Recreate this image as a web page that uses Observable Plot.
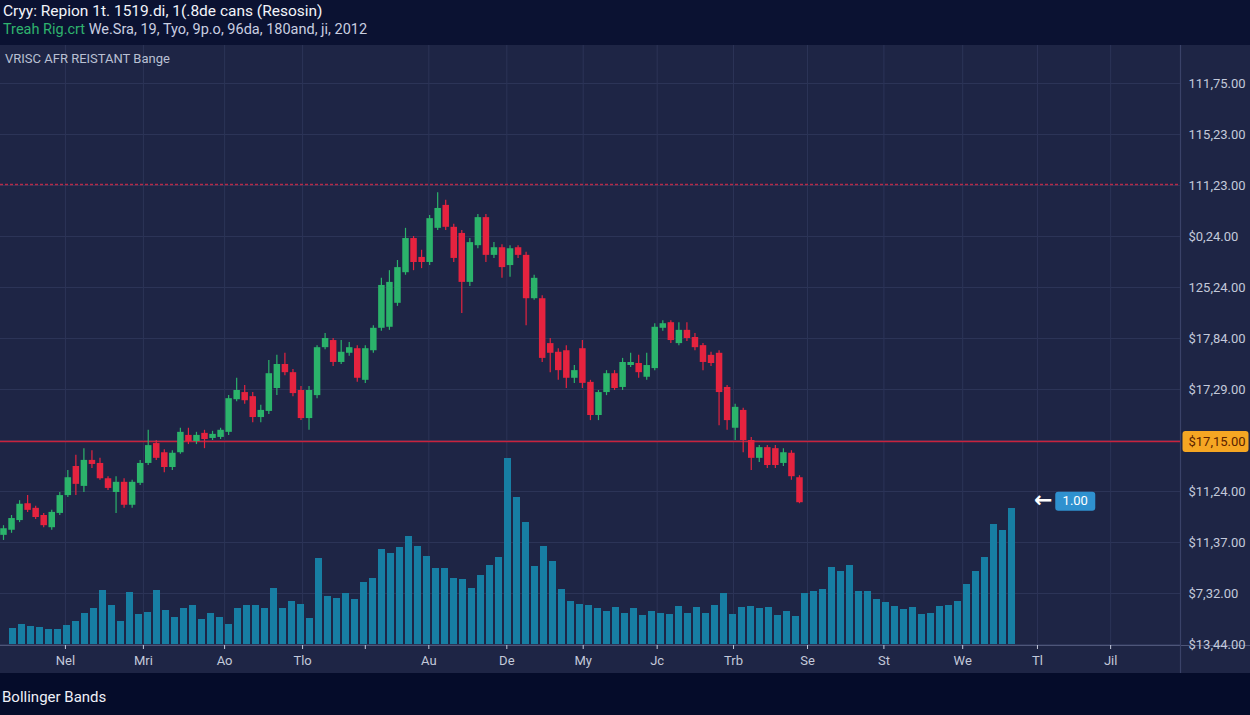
<!DOCTYPE html>
<html><head><meta charset="utf-8">
<script src="https://cdn.jsdelivr.net/npm/d3@7"></script>
<script src="https://cdn.jsdelivr.net/npm/@observablehq/plot@0.6"></script>
<style>
html,body{margin:0;padding:0;background:#050c2a;font-family:Roboto,"Noto Sans",sans-serif;overflow:hidden;}
#header{height:45px;background:#0b1232;position:relative;}
#t1{position:absolute;left:3px;top:2px;font-size:15.5px;color:#f2f4fa;white-space:nowrap;}
#t2{position:absolute;left:3px;top:21px;font-size:14.5px;color:#c9cee0;white-space:nowrap;}
#t2 .g{color:#2fb36e;}
#chart{position:relative;width:1250px;height:628px;background:#1e2545;}
#chart svg{position:absolute;left:0;top:0;}
#inner{position:absolute;left:5px;top:6px;font-size:13px;color:#b9c0d3;}
#footer{height:42px;position:relative;background:#050c2a;}
#foot{position:absolute;left:2px;top:15px;font-size:15px;color:#eef0f8;}
</style>
</head><body>
<div id="header">
  <div id="t1">Cryy: Repion 1t. 1519.di, 1(.8de cans (Resosin)</div>
  <div id="t2"><span class="g">Treah Rig.crt</span> We.Sra, 19, Tyo, 9p.o, 96da, 180and, ji, 2012</div>
</div>
<div id="chart"></div>
<div id="footer"><div id="foot">Bollinger Bands</div></div>
<script>
// ---- data ----
const candleOpen = [
 21.4,22.4,24.3,27.6,26.7,25.3,22.9,25.7,29.2,34.9,
 31.0,36.1,35.5,32.5,29.8,31.8,27.3,31.6,35.5,39.4,
 37.6,34.7,37.6,41.0,39.8,41.4,40.4,40.6,41.6,48.0,
 49.4,48.6,44.5,45.7,50.2,54.9,53.3,49.8,44.3,48.8,
 58.2,59.6,55.3,57.1,58.0,51.8,57.6,62.0,62.2,66.9,
 72.9,79.6,75.9,74.9,81.6,86.1,81.8,80.6,71.0,78.2,
 83.7,76.3,77.8,74.3,77.8,76.3,67.8,67.8,59.0,57.3,
 57.6,52.2,58.0,51.4,44.9,49.4,53.1,50.4,54.7,55.1,
 52.4,54.1,62.0,63.1,59.0,61.6,60.2,58.6,56.7,57.1,
 50.4,42.4,45.9,40.0,36.5,38.6,38.4,35.5,37.5,32.7];
const candleClose = [
 22.7,24.7,27.5,26.3,24.9,23.3,25.9,29.2,32.7,31.4,
 36.1,35.3,32.5,30.6,31.8,27.3,31.8,35.5,39.0,36.5,
 34.7,37.5,41.6,39.8,41.0,40.2,41.2,42.0,48.2,49.8,
 47.8,44.5,45.9,53.1,54.9,53.3,49.2,44.3,49.8,58.2,
 60.0,55.3,57.3,58.2,52.2,58.0,62.0,70.4,71.0,73.9,
 79.6,74.9,74.9,83.5,85.5,81.8,75.7,71.0,78.8,83.7,
 76.3,77.8,73.9,77.6,76.3,67.8,71.8,56.1,57.1,53.7,
 52.2,53.7,51.2,44.9,49.4,53.1,50.2,55.3,55.3,53.3,
 54.7,62.2,62.9,59.6,61.6,60.0,58.2,55.3,55.1,49.4,
 43.9,46.5,40.0,36.5,38.6,35.1,35.1,37.6,32.9,27.8];
const candleHigh = [
 23.3,25.3,28.2,29.2,27.1,25.7,26.3,29.8,34.1,37.1,
 38.4,38.0,36.5,32.9,32.9,32.5,32.2,36.1,42.0,40.0,
 38.2,38.0,42.4,42.4,41.6,42.0,41.8,42.4,48.8,52.2,
 50.8,49.4,46.9,55.7,56.7,57.1,53.9,50.6,50.6,58.6,
 61.0,60.0,59.6,59.2,58.6,58.6,62.5,71.8,73.3,75.3,
 81.6,80.0,77.3,84.1,88.6,87.1,82.4,81.2,79.6,84.3,
 84.3,78.8,78.4,78.2,78.2,76.9,72.4,68.4,60.0,58.0,
 58.6,54.7,59.6,51.8,49.8,53.7,53.7,56.1,57.1,56.7,
 57.1,62.9,63.5,63.5,63.1,63.1,61.0,59.0,57.3,57.6,
 50.8,47.1,46.3,40.6,39.0,39.0,39.0,38.4,38.0,33.1];
const candleLow = [
 20.4,21.8,23.9,25.9,24.5,22.9,22.4,25.3,28.8,29.2,
 29.8,34.5,32.2,30.2,25.7,26.7,26.7,31.2,35.1,36.1,
 33.7,34.1,37.3,39.2,39.2,38.4,40.0,40.2,41.0,47.6,
 47.1,43.5,43.5,45.1,48.8,52.7,48.6,43.9,42.0,48.2,
 57.8,54.5,54.9,56.5,51.4,51.2,57.1,61.4,61.6,66.3,
 72.4,73.3,73.7,74.3,81.2,81.2,74.9,64.9,70.2,77.6,
 74.9,75.7,71.8,72.0,75.7,62.5,67.5,55.3,53.3,51.8,
 50.2,51.2,50.2,43.9,43.9,48.8,49.8,49.8,54.3,52.2,
 51.8,53.7,61.4,59.0,58.6,59.4,57.6,53.7,54.5,42.9,
 42.0,40.0,37.6,34.1,35.7,34.5,34.5,34.9,32.2,27.6];

const volume = [
 80,100,90,85,75,75,95,115,155,180,
 270,195,115,260,150,160,270,170,135,180,
 195,125,155,135,100,180,195,195,180,280,
 180,215,200,130,430,240,230,255,225,310,
 330,475,455,485,540,490,440,380,380,330,
 325,280,345,395,435,930,735,610,390,
 490,415,275,215,200,195,180,165,185,155,
 180,145,165,155,150,190,155,185,155,195,
 255,150,185,190,180,185,145,165,140,255,
 265,275,385,365,395,265,265,225,210,190,
 175,185,150,155,190,195,215,300,365,435,
 600,570,680];

const yTicks = [0,10,20,30,40,50,60,70,80,90,100,110];
const yTickLabels = ["$13,44.00","$7,32.00","$11,37.00","$11,24.00","$17,15.00","$17,29.00",
                     "$17,84.00","125,24.00","$0,24.00","111,23.00","115,23.00","111,75.00"];
const xTickPos = [7.7,17.4,27.5,37.2,45.0,52.9,62.6,72.1,81.3,90.8,100.0,109.5,119.3,128.6,137.7];
const xTickLabels = ["Nel","Mri","Ao","Tlo","","Au","De","My","Jc","Trb","Se","St","We","Tl","Jil"];
const resistanceLevel = [90.2];
const priceTag = [{p: 39.8, label: "$17,15.00"}];
const marker = [{i: 133.3, p: 28.1, label: "1.00"}];
const chartTag = "VRISC AFR REISTANT Bange";

// ---- build ----
const candles = candleOpen.map((o, i) => ({i, o, c: candleClose[i], h: candleHigh[i], l: candleLow[i]}));
const xDomain = [-0.373, 146.39];
const yDomain = [0, 110];
const W = 1250, H = 628;
const GREEN = "#2bb36b", RED = "#e5233f", GRID = "#2c3457";
const common = {width: W, height: H, marginLeft: 0, marginRight: 70, marginTop: 38, marginBottom: 29,
  style: "background: transparent; overflow: visible; font-family: Roboto, 'Noto Sans', sans-serif; font-size: 13px;"};
const xLab = new Map(xTickPos.map((d, k) => [d, xTickLabels[k]]));
const yLab = new Map(yTicks.map((d, k) => [d, yTickLabels[k]]));
const xGrid = xTickPos.filter(d => xLab.get(d) !== "");

function roundBox(x0, w, h, r) {
  return {draw(ctx) {
    const x1 = x0 + w, y0 = -h / 2, y1 = h / 2;
    ctx.moveTo(x0 + r, y0); ctx.lineTo(x1 - r, y0); ctx.arcTo(x1, y0, x1, y0 + r, r);
    ctx.lineTo(x1, y1 - r); ctx.arcTo(x1, y1, x1 - r, y1, r);
    ctx.lineTo(x0 + r, y1); ctx.arcTo(x0, y1, x0, y1 - r, r);
    ctx.lineTo(x0, y0 + r); ctx.arcTo(x0, y0, x0 + r, y0, r); ctx.closePath();
  }};
}

const baseLayer = Plot.plot({...common,
  x: {domain: xDomain, axis: null},
  y: {domain: yDomain, axis: null},
  marks: [
    Plot.ruleY(yTicks, {stroke: GRID, strokeWidth: 1}),
    Plot.ruleX(xGrid, {stroke: GRID, strokeWidth: 1, insetTop: -38}),
    Plot.ruleY([0], {stroke: "#4e5679", strokeWidth: 1.2, insetRight: -70, dy: 1}),
    Plot.ruleX([xDomain[1]], {stroke: "#3a4268", strokeWidth: 1.2, insetTop: -38, insetBottom: -29}),
    Plot.axisX({ticks: xTickPos, tickFormat: d => xLab.get(d), tickSize: 4, tickPadding: 6,
      color: "#c3c9da", fontSize: 13, dy: 1}),
    Plot.axisY({anchor: "right", ticks: yTicks, tickFormat: d => yLab.get(d), tickSize: 0, tickPadding: 8,
      color: "#c3c9da", fontSize: 13})
  ]
});

const volLayer = Plot.plot({width: W, height: H, marginLeft: 0, marginRight: 226, marginTop: 38, marginBottom: 29,
  style: common.style,
  x: {type: "band", domain: d3.range(volume.length), padding: 0.22, axis: null},
  y: {domain: [0, 2805], axis: null},
  marks: [Plot.barY(volume, {x: (d, i) => i, y: d => d, fill: "#177ea3"})]
});

const priceLayer = Plot.plot({...common,
  x: {domain: xDomain, axis: null},
  y: {domain: yDomain, axis: null},
  marks: [
    Plot.ruleY(resistanceLevel, {stroke: "#b42a48", strokeWidth: 1.5, strokeDasharray: "3,2"}),
    Plot.ruleY(priceTag, {y: "p", stroke: "#c8233d", strokeWidth: 1.5}),
    Plot.ruleX(candles, {x: "i", y1: "l", y2: "h", stroke: d => d.c >= d.o ? GREEN : RED, strokeWidth: 1.2}),
    Plot.ruleX(candles, {x: "i", y1: "o", y2: "c", stroke: d => d.c >= d.o ? GREEN : RED, strokeWidth: 6.5}),
    Plot.dot(priceTag, {y: "p", frameAnchor: "right", symbol: roundBox(2, 66, 21, 3), fill: "#f5a623", stroke: null}),
    Plot.text(priceTag, {y: "p", frameAnchor: "right", dx: 8, text: "label", textAnchor: "start",
      fill: "#5a2200", fontSize: 13}),
    Plot.dot(marker, {x: "i", y: "p", symbol: roundBox(-20, 40, 19, 3), fill: "#2f91cf", stroke: null}),
    Plot.text(marker, {x: "i", y: "p", text: "label", fill: "#ffffff", fontSize: 13}),
    Plot.text(marker, {x: "i", y: "p", text: () => "←", dx: -32, dy: -1, fill: "#ffffff", fontSize: 22,
      fontWeight: "bold", fontFamily: "DejaVu Sans"})
  ]
});

const chart = document.getElementById("chart");
chart.append(baseLayer, volLayer, priceLayer);
const lab = document.createElement("div");
lab.id = "inner"; lab.textContent = chartTag;
chart.append(lab);
</script>
</body></html>
